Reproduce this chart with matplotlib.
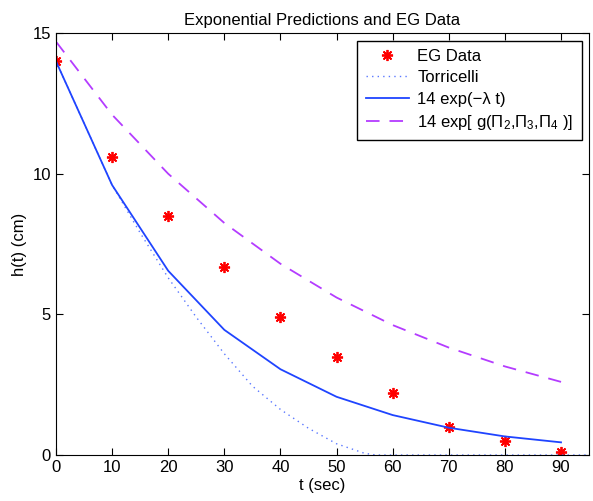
import numpy as np
import matplotlib
matplotlib.use("Agg")
import matplotlib.pyplot as plt

plt.rcParams["font.family"] = ["Liberation Sans", "DejaVu Sans"]
plt.rcParams["mathtext.fontset"] = "custom"
plt.rcParams["mathtext.rm"] = "Liberation Sans"
plt.rcParams["mathtext.it"] = "Liberation Sans:italic"

# 数据
t = [0, 10, 20, 30, 40, 50, 60, 70, 80, 90]
h_eg = [14.0, 10.6, 8.5, 6.7, 4.9, 3.5, 2.2, 1.0, 0.5, 0.1]
h_exp = [14.0, 9.6, 6.55, 4.45, 3.05, 2.07, 1.42, 0.97, 0.66, 0.45]
h_g = [14.7, 12.1, 10.0, 8.25, 6.8, 5.6, 4.62, 3.82, 3.15, 2.6]

t_torr = [0, 5, 10, 15, 20, 25, 30, 35, 40, 45, 50, 55, 57, 95]
h_torr = [14.0, 11.8, 9.6, 7.9, 6.3, 4.9, 3.6, 2.45, 1.62, 0.95, 0.4, 0.06, 0.0, 0.0]

fig = plt.figure(figsize=(5.93, 5.01), dpi=100)
ax = fig.add_axes([0.0944, 0.0918, 0.899, 0.842])

ax.plot(t, h_eg, linestyle="none", marker=(8, 2, 0), markersize=8,
        markeredgewidth=1.3, color="red", label="EG Data")
ax.plot(t_torr, h_torr, linestyle=(0, (1, 3)), color="#5a78ff", lw=1.0,
        label="Torricelli")
ax.plot(t, h_exp, "-", color="#1f44ff", lw=1.3, label="14 exp(\u2212\u03bb t)")
ax.plot(t, h_g, linestyle=(0, (7.5, 5.5)), color="#b43cff", lw=1.3,
        label="14 exp[ g($\\Pi_2$,$\\Pi_3$,$\\Pi_4$ )]")

ax.set_xlim(0, 95)
ax.set_ylim(0, 15)
ax.set_xticks(range(0, 91, 10))
ax.set_yticks([0, 5, 10, 15])
ax.tick_params(direction="in", top=True, right=True, labelsize=12, length=5)
ax.set_xlabel("t (sec)", fontsize=12, labelpad=2)
ax.set_ylabel("h(t) (cm)", fontsize=12)
ax.set_title("Exponential Predictions and EG Data", fontsize=12)

leg = ax.legend(loc="upper right", fontsize=12, fancybox=False, framealpha=1,
                edgecolor="black", handlelength=2.6, handletextpad=0.5,
                labelspacing=0.38, borderpad=0.5, borderaxespad=0.45)
leg.get_frame().set_linewidth(1.0)

fig.savefig("out.png", dpi=100)
